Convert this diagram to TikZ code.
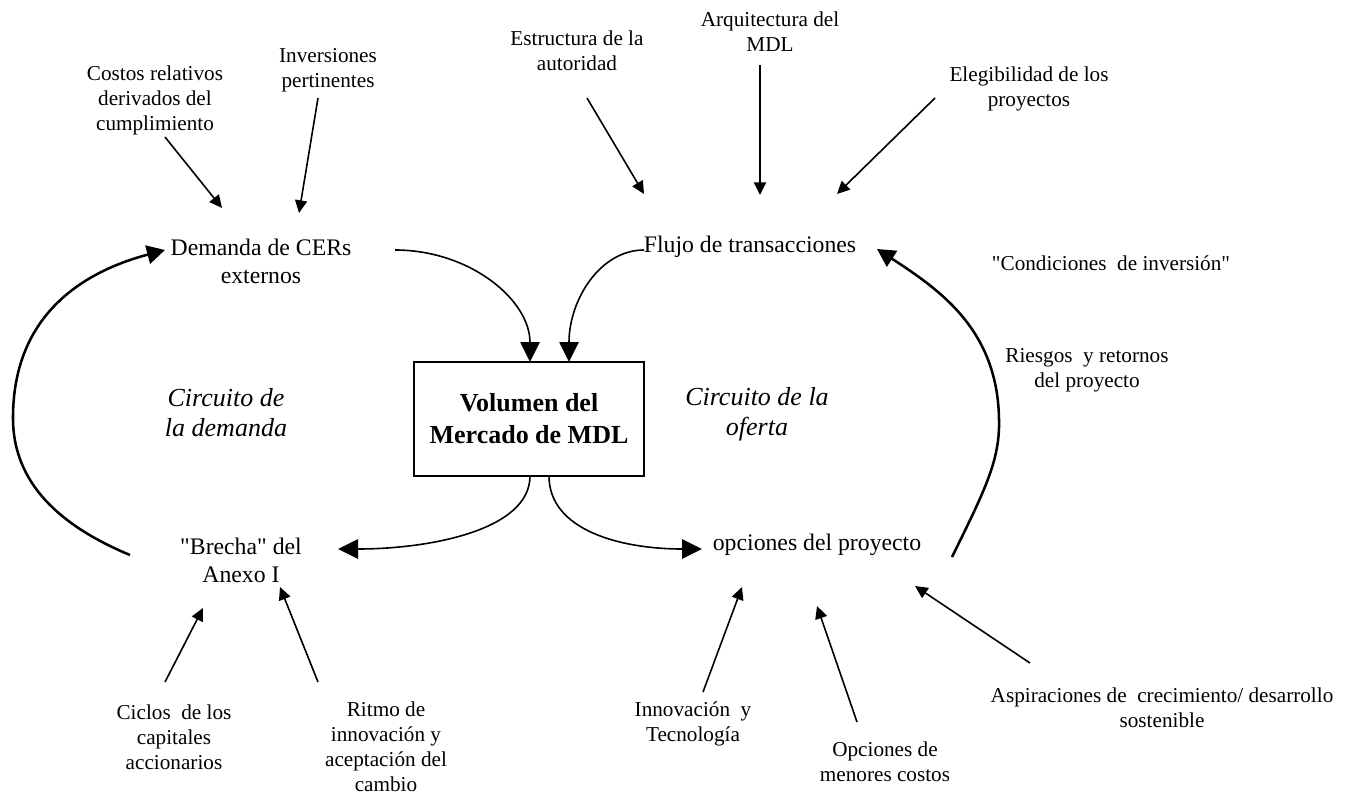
\documentclass[tikz,border=0pt]{standalone}
\usepackage{fontspec}
\setmainfont{Liberation Serif}
\usetikzlibrary{arrows.meta}
\begin{document}
\begin{tikzpicture}[x=0.75pt,y=-0.75pt,
  txts/.style={font=\fontsize{15.9}{18.75}\selectfont, align=center, inner sep=0pt},
  txtm/.style={font=\fontsize{17.8}{21}\selectfont, align=center, inner sep=0pt},
  txti/.style={font=\fontsize{19.5}{22.5}\selectfont\itshape, align=center, inner sep=0pt},
  volbox/.style={draw, line width=1.5pt, font=\fontsize{19.5}{24}\selectfont\bfseries, align=center,
     minimum width=172.5pt, minimum height=85.5pt, inner sep=0pt},
  sarrow/.style={line width=1.2pt, -{Triangle[length=9.5pt,width=9pt]}},
  marrow/.style={line width=1.2pt, -{Triangle[length=15pt,width=14.5pt]}},
  barrow/.style={line width=1.9pt, -{Triangle[length=13.5pt,width=14pt]}}]
\useasboundingbox (0,0) rectangle (1348,795);

% texts
\node[txts] (costos) at (155,100) {Costos relativos\\derivados del\\cumplimiento};
\node[txts] (inver) at (328,70) {Inversiones\\pertinentes};
\node[txts] (estr) at (577,51) {Estructura de la\\autoridad};
\node[txts] (arq) at (770,32) {Arquitectura del\\MDL};
\node[txts] (eleg) at (1029,89) {Elegibilidad de los\\proyectos};
\node[txtm] (demanda) at (261,261) {Demanda de CERs\\externos};
\node[txtm] (flujo) at (750,247) {Flujo de transacciones};
\node[txts] (cond) at (1111,263) {\textquotedbl Condiciones\ \ de inversión\textquotedbl};
\node[txts] (riesgos) at (1087,370) {Riesgos\ \ y retornos\\del proyecto};
\node[volbox] (vol) at (529,419) {Volumen del\\Mercado de MDL};
\node[txti] (circdem) at (226,413) {Circuito de\\la demanda};
\node[txti] (circof) at (757,414) {Circuito de la\\oferta};
\node[txtm] (brecha) at (241,560) {\textquotedbl Brecha\textquotedbl{} del\\Anexo I};
\node[txtm] (opciones) at (817,545) {opciones del proyecto};
\node[txts] (ciclos) at (174,737) {Ciclos\ \ de los\\capitales\\accionarios};
\node[txts] (ritmo) at (386,747) {Ritmo de\\innovación y\\aceptación del\\cambio};
\node[txts] (innov) at (693,724) {Innovación\ \ y\\Tecnología};
\node[txts] (menores) at (885,762) {Opciones de\\menores costos};
\node[txts] (aspir) at (1162,708) {Aspiraciones de\ \ crecimiento/ desarrollo\\sostenible};

% arrow end points
\coordinate (cs) at (165,137); \coordinate (ce) at (222,208);
\coordinate (is) at (318,98);  \coordinate (ie) at (299,213);
\coordinate (es) at (587,98);  \coordinate (ee) at (644,194);
\coordinate (as) at (760,65);  \coordinate (ae) at (760,195);
\coordinate (gs) at (935,98);  \coordinate (ge) at (837,194);
\coordinate (cis) at (165,682); \coordinate (cie) at (203,608);
\coordinate (rs) at (318,682); \coordinate (re) at (280,587);
\coordinate (ns) at (703,692); \coordinate (ne) at (742,587);
\coordinate (ms) at (857,722); \coordinate (me) at (817,606);
\coordinate (ps) at (1030,663); \coordinate (pe) at (915,586);

\draw[sarrow] (cs) -- (ce);
\draw[sarrow] (is) -- (ie);
\draw[sarrow] (es) -- (ee);
\draw[sarrow] (as) -- (ae);
\draw[sarrow] (gs) -- (ge);
\draw[sarrow] (cis) -- (cie);
\draw[sarrow] (rs) -- (re);
\draw[sarrow] (ns) -- (ne);
\draw[sarrow] (ms) -- (me);
\draw[sarrow] (ps) -- (pe);

% middle curves
\coordinate (d1) at (395,250); \coordinate (v1) at (530,362);
\coordinate (f1) at (644,250); \coordinate (v2) at (569,362);
\coordinate (v3) at (530,476); \coordinate (b1) at (338,549);
\coordinate (v4) at (549,476); \coordinate (o1) at (702,549);
\draw[marrow] (d1) .. controls (470,250) and (530,300) .. (v1);
\draw[marrow] (f1) .. controls (600,250) and (569,300) .. (v2);
\draw[marrow] (v3) .. controls (530,530) and (430,549) .. (b1);
\draw[marrow] (v4) .. controls (549,530) and (620,549) .. (o1);

% big loops
\coordinate (l0) at (130,555); \coordinate (l1) at (13,420); \coordinate (l2) at (165,250);
\coordinate (r0) at (952,557); \coordinate (r1) at (999,420); \coordinate (r2) at (877,249);
\draw[barrow] (l0) .. controls (70,530) and (14,490) .. (l1) .. controls (12,310) and (90,270) .. (l2);
\draw[barrow] (r0) .. controls (985,490) and (1000,460) .. (r1) .. controls (998,330) and (940,290) .. (r2);
\end{tikzpicture}
\end{document}
